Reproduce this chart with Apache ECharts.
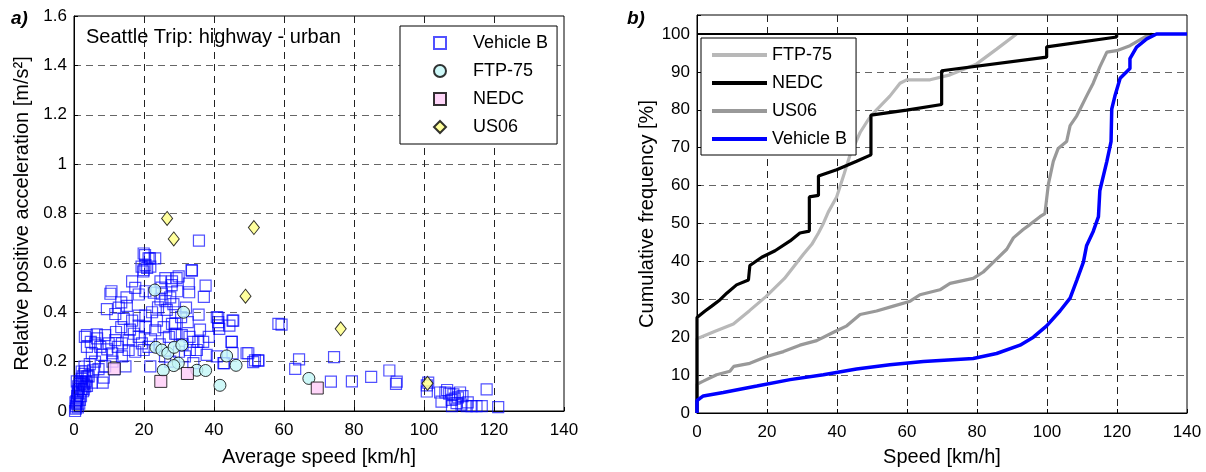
<!DOCTYPE html>
<html><head><meta charset="utf-8">
<script src="https://cdn.jsdelivr.net/npm/echarts@6.0.0/dist/echarts.min.js"></script>
<style>html,body{margin:0;padding:0;background:#fff}#c{width:1206px;height:472px}</style>
</head><body><div id="c"></div><script>
// ---------- Left plot data: [average speed km/h, relative positive acceleration m/s^2]
const vehicleB = [
 [0.3,0.00],[0.5,0.01],[0.6,0.02],[0.8,0.03],[0.7,0.04],[1.0,0.05],[0.9,0.06],[1.2,0.07],[1.0,0.08],[1.4,0.09],
 [1.2,0.10],[1.6,0.11],[1.9,0.12],[2.2,0.13],[2.5,0.14],[3.0,0.15],[1.5,0.03],[2.0,0.06],[2.3,0.09],[2.8,0.11],
 [3.4,0.12],[3.8,0.14],[1.1,0.015],[0.4,0.035],[1.7,0.045],[2.6,0.08],[3.2,0.10],[0.8,0.12],[2.2,0.16],[3.0,0.18],
 [3.1,0.30],[3.7,0.307],[6.6,0.294],[8.9,0.307],[6.1,0.274],[7.5,0.26],[9.9,0.274],[11.8,0.287],[13.7,0.274],[15.6,0.287],
 [5.1,0.234],[8.0,0.227],[10.9,0.234],[13.7,0.221],[15.6,0.247],[17.5,0.24],[3.7,0.26],[8.9,0.181],[14.7,0.181],[8.5,0.135],
 [8.2,0.115],[3.2,0.161],[4.2,0.14],[5.1,0.115],[3.7,0.102],[2.3,0.115],[2.8,0.088],[6.0,0.20],[4.5,0.19],[7.0,0.17],
 [5.5,0.165],[11.0,0.20],[12.5,0.26],[9.5,0.25],[6.5,0.31],[4.8,0.28],[11.5,0.17],[12.0,0.32],
 [9.4,0.413],[12.8,0.419],[15.1,0.426],[11.8,0.393],[14.2,0.373],[16.6,0.366],[18.5,0.386],[20.4,0.386],[22.3,0.40],[23.7,0.366],
 [18.5,0.346],[20.4,0.34],[23.2,0.327],[25.6,0.34],[28.0,0.353],[28.9,0.313],[27.1,0.30],[30.6,0.38],[17.1,0.313],[18.5,0.30],
 [19.4,0.274],[19.9,0.247],[21.3,0.26],[21.8,0.181],[24.0,0.42],[26.5,0.41],[22.0,0.29],[24.5,0.27],[26.0,0.22],[29.0,0.40],
 [16.0,0.33],[13.5,0.34],
 [10.7,0.485],[10.4,0.475],[16.6,0.525],[17.5,0.499],[18.5,0.472],[20.4,0.485],[22.8,0.479],[24.7,0.525],[26.1,0.538],[28.0,0.525],
 [29.9,0.545],[25.0,0.50],[25.1,0.475],[24.7,0.452],[26.1,0.445],[27.5,0.46],[19.9,0.638],[21.3,0.618],[23.2,0.618],[20.4,0.591],
 [21.8,0.585],[19.9,0.571],[20.9,0.58],[20.3,0.631],[21.7,0.618],[19.3,0.585],[19.8,0.565],[33.6,0.571],[35.7,0.69],[33.7,0.569],
 [37.6,0.508],[37.1,0.462],[32.8,0.516],[32.9,0.481],[29.3,0.538],[29.5,0.485],[28.4,0.433],[27.9,0.51],[15.0,0.46],[13.5,0.44],
 [32.0,0.419],[35.6,0.39],[41.2,0.377],[41.2,0.36],[41.5,0.333],[45.3,0.366],[44.4,0.346],[45.1,0.28],[45.3,0.234],[49.8,0.234],
 [51.7,0.205],[52.6,0.205],[42.9,0.194],[40.8,0.221],[58.4,0.353],[36.9,0.28],[34.1,0.28],[35.5,0.28],[37.9,0.227],[35.1,0.247],
 [33.1,0.247],[28.9,0.353],[29.3,0.313],[30.8,0.307],[31.7,0.221],[34.1,0.194],[40.8,0.38],[41.2,0.347],[45.5,0.366],[45.0,0.28],
 [42.7,0.194],[49.3,0.234],[31.0,0.27],[33.0,0.30],[36.0,0.33],[38.5,0.30],[30.0,0.24],[32.5,0.36],[27.5,0.20],
 [59.3,0.35],[51.2,0.198],[52.7,0.204],[64.3,0.209],[63.2,0.171],[74.3,0.218],[73.4,0.119],[79.4,0.12],[84.9,0.138],[90.1,0.164],
 [92.2,0.119],[92.0,0.11],[100.8,0.104],[101.2,0.115],[100.8,0.079],[104.6,0.075],[105.0,0.038],[106.1,0.075],[107.2,0.07],[108.4,0.067],
 [110.3,0.075],[107.9,0.045],[109.3,0.032],[110.7,0.026],[112.2,0.02],[113.6,0.02],[115.0,0.02],[116.5,0.02],[117.9,0.088],[121.2,0.016],
 [108.8,0.05],[109.7,0.055],[106.6,0.085],[111.0,0.06],[108.0,0.02],[112.5,0.035]
];
const ftp75 = [[23.1,0.49],[31.3,0.40],[23.4,0.258],[25.1,0.247],[26.8,0.234],[28.6,0.258],[30.8,0.267],[29.8,0.194],
 [28.5,0.184],[25.5,0.165],[35.1,0.165],[37.6,0.164],[43.6,0.223],[46.3,0.185],[41.7,0.104],[67.1,0.132]];
const nedc = [[11.5,0.171],[24.8,0.12],[32.4,0.152],[69.5,0.093]];
const us06 = [[26.6,0.78],[28.5,0.697],[51.4,0.743],[49.0,0.465],[76.2,0.333],[101.0,0.112]];

// ---------- Right plot data: [speed km/h, cumulative frequency %]
const ftp75Cdf = [[0,0],[0,19.6],[5,21.5],[10.4,23.5],[15,27],[19.7,30.7],[25,35.5],[30.4,41.9],[32.8,44.5],[34.7,47.5],
 [36.1,50],[37.5,53],[39.9,57],[42,63],[43.7,68],[46.6,74],[49,77.5],[51.3,80],[55.1,83.6],[58,87],[59.9,87.9],[66.6,87.9],
 [72.3,89.2],[79.9,92.1],[85.6,96],[91.3,100]];
const nedcCdf = [[0,0],[0,25.2],[2.3,26.9],[4.2,28.2],[6.6,29.9],[8.5,31.6],[11.3,33.8],[14.7,35.1],[15.1,38.9],[18.5,41.1],
 [22.3,42.8],[26.6,45.4],[29.4,47.5],[32.1,48],[32.1,57],[34.7,57.4],[34.7,62.5],[39.9,64.2],[45.6,66.4],[49.7,68.1],
 [49.7,78.6],[59.9,79.9],[69.9,81.4],[69.9,90.3],[99.9,93.9],[99.9,96.6],[119.9,99.2],[119.9,100]];
const us06Cdf = [[0,0],[0,7.6],[1.8,8.4],[5.6,10.1],[9.4,11],[10.5,12.3],[15.1,13.1],[19.9,14.9],[24.7,16.2],[29.4,17.9],
 [34.2,19.1],[39,21.3],[42.8,23],[46.6,26],[51.3,26.9],[56.1,28.2],[60.9,29.5],[63.7,31.2],[69.4,32.5],[72.3,34.2],
 [78.9,35.5],[81.8,37.2],[85.6,40.6],[88.5,43.2],[90.4,46.2],[93.2,48.4],[95.1,49.7],[98,51.8],[99.4,52.6],[100.4,60.4],
 [101.8,66.4],[103.2,69.8],[105.6,71.6],[106.6,75.8],[108.5,78.4],[109.9,81],[111.3,83.6],[113.2,87],[115.1,91.3],
 [117.1,95.2],[119.9,95.6],[123.7,96.9],[128.5,99.5],[130,100]];
const vehicleBCdf = [[0,0],[0,3.3],[1.8,4.5],[7.5,5.4],[17.1,7.1],[26.6,8.8],[36.1,10.1],[45.6,11.6],[55.1,12.7],[64.7,13.6],
 [78.9,14.4],[85.6,15.7],[92.3,17.9],[96.1,20],[99.9,23],[103.7,26.9],[106.6,30.3],[108.5,35],[110.4,39.8],[111.3,44.1],
 [113.2,47.9],[114.7,51.8],[115.1,58.7],[117.1,66.4],[118.3,71.6],[118.5,80.2],[119.4,83.6],[120.9,88.3],[123.7,90.9],
 [123.7,93.5],[125.6,96.5],[128.5,98.7],[131.3,100],[140,100]];

const leftNames = ['Vehicle B','FTP-75','NEDC','US06'];
const rightNames = ['FTP-75 ','NEDC ','US06 ','Vehicle B '];

const FONT = '"Liberation Sans", Arial, sans-serif';
const chart = echarts.init(document.getElementById('c'), null, {renderer:'canvas'});

function xAx(grid, name, gap){
  return {gridIndex:grid, type:'value', min:0, max:140, interval:20, name:name, nameLocation:'middle', nameGap:gap,
    nameTextStyle:{fontSize:20, color:'#000', fontFamily:FONT},
    axisLine:{onZero:false, lineStyle:{color:'#000', width:1}},
    axisTick:{inside:true, length:4, lineStyle:{color:'#000'}},
    axisLabel:{color:'#000', fontSize:17, margin:11, fontFamily:FONT},
    splitLine:{show:true, showMinLine:false, showMaxLine:false, lineStyle:{color:'#222', width:1, type:[7,5]}}};
}
function yAx(grid, name, gap, max, interval, fmt){
  return {gridIndex:grid, type:'value', min:0, max:max, interval:interval, name:name, nameLocation:'middle', nameGap:gap,
    nameTextStyle:{fontSize:20, color:'#000', fontFamily:FONT},
    axisLine:{onZero:false, lineStyle:{color:'#000', width:1}},
    axisTick:{inside:true, length:4, lineStyle:{color:'#000'}},
    axisLabel:{color:'#000', fontSize:17, margin:7, fontFamily:FONT, formatter:fmt},
    splitLine:{show:true, showMinLine:false, showMaxLine:false, lineStyle:{color:'#666', width:1, type:[7,5]}}};
}

const option = {
  animation:false,
  backgroundColor:'#fff',
  textStyle:{fontFamily:FONT},
  grid:[
    {left:74, top:16, width:490, height:403, show:true, borderColor:'#000', borderWidth:1, backgroundColor:'#fff'},
    {left:697, top:15, width:490, height:406, show:true, borderColor:'#000', borderWidth:1, backgroundColor:'#fff'}
  ],
  xAxis:[ xAx(0,'Average speed [km/h]',36), xAx(1,'Speed [km/h]',34) ],
  yAxis:[
    yAx(0,'Relative positive acceleration [m/s²]',42,1.6,0.2, v => (Math.round(v*10)/10).toString()),
    yAx(1,'Cumulative frequency [%]',37,105,10, v => v>100 ? '' : String(v))
  ],
  legend:[
    {data:leftNames, orient:'vertical', left:400, top:26, padding:[8,9,8,33], itemWidth:12, itemHeight:12, itemGap:10,
     backgroundColor:'#fff', borderColor:'#000', borderWidth:1, borderRadius:0, selectedMode:false,
     formatter:n => '{t|'+n+'}',
     textStyle:{color:'#000', rich:{t:{fontSize:18, lineHeight:16, color:'#000', fontFamily:FONT, padding:[0,0,0,22]}}}},
    {data:rightNames, orient:'vertical', left:701, top:38, padding:[8,9,7,11], itemWidth:55, itemHeight:4, itemGap:10,
     icon:'rect', backgroundColor:'#fff', borderColor:'#000', borderWidth:1, borderRadius:0, selectedMode:false,
     formatter:n => '{t|'+n.trim()+'}',
     textStyle:{color:'#000', rich:{t:{fontSize:18, lineHeight:16, color:'#000', fontFamily:FONT}}}}
  ],
  graphic:[
    {type:'text', left:86, top:27, z:10, style:{text:'Seattle Trip: highway - urban', fontSize:20, fontFamily:FONT, fill:'#000'}},
    {type:'text', left:11, top:9, z:10, style:{text:'a)', fontSize:19, fontWeight:'bold', fontStyle:'italic', fontFamily:FONT, fill:'#000'}},
    {type:'text', left:627, top:9, z:10, style:{text:'b)', fontSize:19, fontWeight:'bold', fontStyle:'italic', fontFamily:FONT, fill:'#000'}}
  ],
  series:[
    {type:'scatter', name:'Vehicle B', xAxisIndex:0, yAxisIndex:0, data:vehicleB, symbol:'rect', symbolSize:11, silent:true, z:2,
     itemStyle:{color:'rgba(255,255,255,0)', borderColor:'rgba(0,0,255,0.85)', borderWidth:1.2}},
    {type:'scatter', name:'FTP-75', xAxisIndex:0, yAxisIndex:0, data:ftp75, symbol:'circle', symbolSize:12, silent:true, z:3,
     itemStyle:{color:'#c2f6f6', borderColor:'#000', borderWidth:1}},
    {type:'scatter', name:'NEDC', xAxisIndex:0, yAxisIndex:0, data:nedc, symbol:'rect', symbolSize:12, silent:true, z:4,
     itemStyle:{color:'#ffccf7', borderColor:'#000', borderWidth:1}},
    {type:'scatter', name:'US06', xAxisIndex:0, yAxisIndex:0, data:us06, symbol:'diamond', symbolSize:[11,14], silent:true, z:5,
     itemStyle:{color:'#ffff85', borderColor:'#000', borderWidth:1}},
    {type:'line', name:'FTP-75 ', xAxisIndex:1, yAxisIndex:1, data:ftp75Cdf, symbol:'none', silent:true, z:3, color:'#b8b8b8',
     lineStyle:{color:'#b8b8b8', width:3.2}},
    {type:'line', name:'NEDC ', xAxisIndex:1, yAxisIndex:1, data:nedcCdf, symbol:'none', silent:true, z:4, color:'#000',
     lineStyle:{color:'#000', width:3.2},
     markLine:{silent:true, symbol:'none', label:{show:false}, lineStyle:{color:'#000', width:2, type:'solid'}, data:[{yAxis:100}]}},
    {type:'line', name:'US06 ', xAxisIndex:1, yAxisIndex:1, data:us06Cdf, symbol:'none', silent:true, z:3, color:'#999999',
     lineStyle:{color:'#999999', width:3.2}},
    {type:'line', name:'Vehicle B ', xAxisIndex:1, yAxisIndex:1, data:vehicleBCdf, symbol:'none', silent:true, z:5, color:'#0000ff',
     lineStyle:{color:'#0000ff', width:3.5}}
  ]
};
chart.setOption(option);
</script></body></html>
